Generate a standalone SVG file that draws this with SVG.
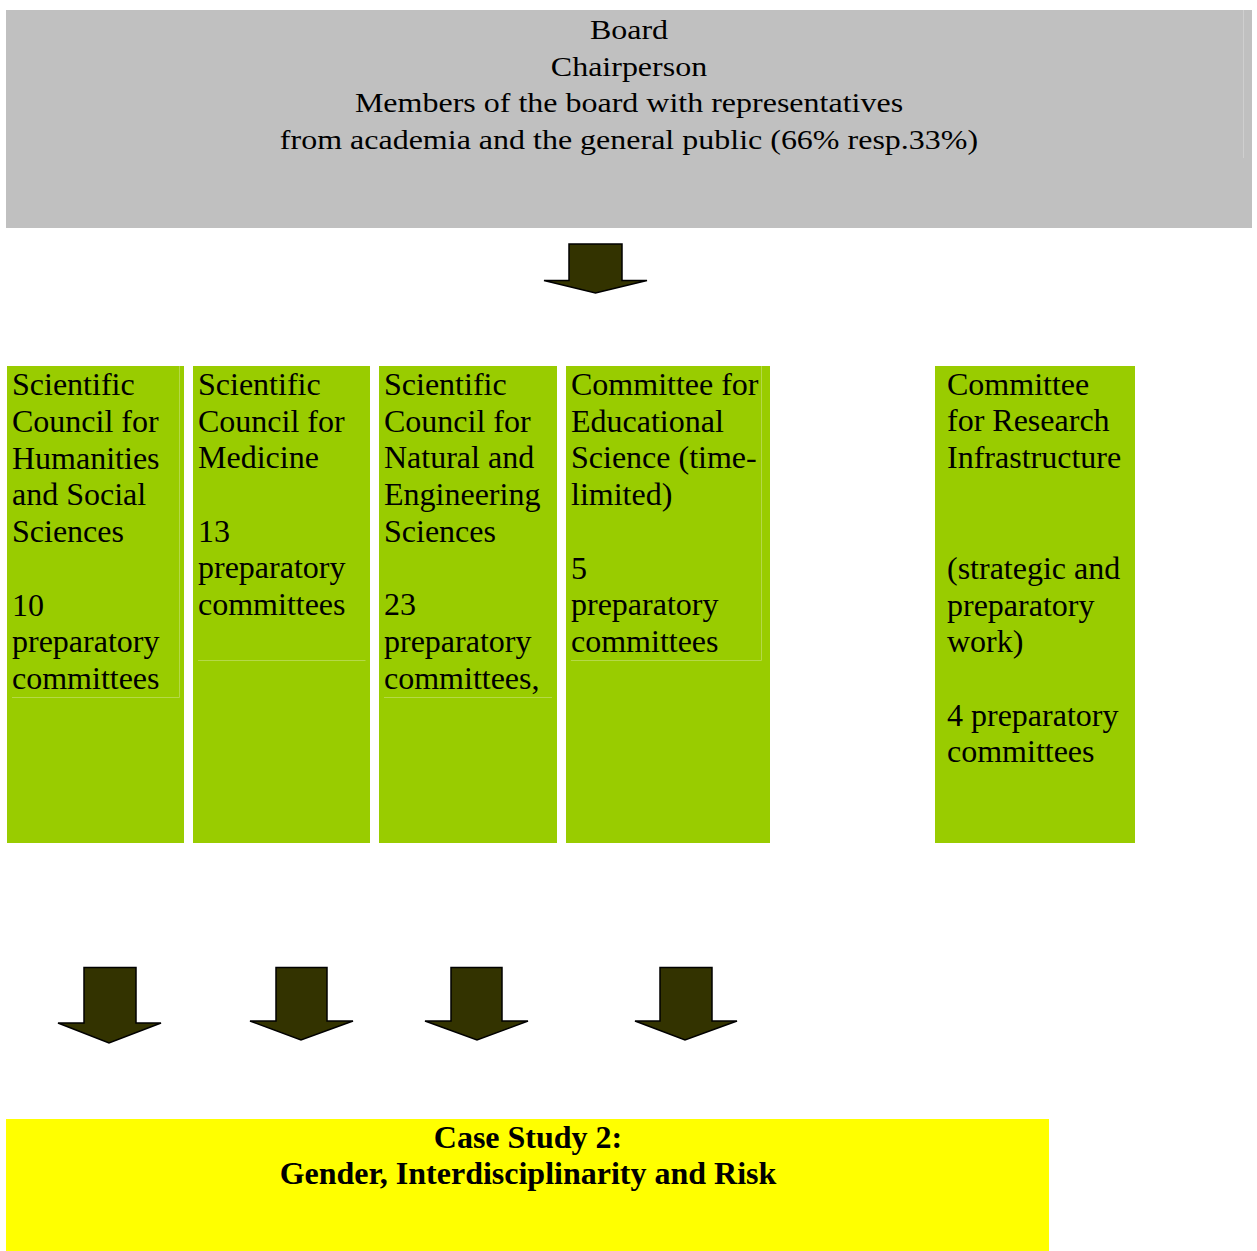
<svg xmlns="http://www.w3.org/2000/svg" width="1257" height="1251" viewBox="0 0 1257 1251">
<style>
.t{font-family:"Liberation Serif","Times New Roman",serif;font-size:32px;fill:#000}
.b{font-weight:bold}
.green{fill:#99cc00}
.frame{stroke:#b5d948;stroke-width:1;fill:none}
.arrow{fill:#333300;stroke:#000;stroke-width:1.5;stroke-linejoin:miter}
</style>
<rect width="1257" height="1251" fill="#fff"/>
<g id="board">
<rect x="6" y="10" width="1246" height="218" fill="#c0c0c0"/>
<line x1="1243.5" y1="10" x2="1243.5" y2="158" stroke="#cfcfcf" stroke-width="1"/>
<g transform="scale(1,0.84)">
<text class="t" text-anchor="middle" x="629" y="46.4">Board</text>
<text class="t" text-anchor="middle" x="629" y="89.9">Chairperson</text>
<text class="t" text-anchor="middle" x="629" y="133.3">Members of the board with representatives</text>
<text class="t" text-anchor="middle" x="629" y="176.8">from academia and the general public (66% resp.33%)</text>
</g>
</g>
<g id="humanities">
<rect class="green" x="7" y="366" width="177" height="477"/>
<path class="frame" d="M12 697.5H179.5V366"/>
<text class="t" x="12"><tspan x="12" y="395">Scientific</tspan><tspan x="12" y="432">Council for</tspan><tspan x="12" y="469">Humanities</tspan><tspan x="12" y="505">and Social</tspan><tspan x="12" y="542">Sciences</tspan><tspan x="12" y="616">10</tspan><tspan x="12" y="652">preparatory</tspan><tspan x="12" y="689">committees</tspan></text>
</g>
<g id="medicine">
<rect class="green" x="193" y="366" width="177" height="477"/>
<path class="frame" d="M198 660.5H365.5"/>
<text class="t"><tspan x="198" y="395">Scientific</tspan><tspan x="198" y="432">Council for</tspan><tspan x="198" y="468">Medicine</tspan><tspan x="198" y="542">13</tspan><tspan x="198" y="578">preparatory</tspan><tspan x="198" y="615">committees</tspan></text>
</g>
<g id="natural">
<rect class="green" x="379" y="366" width="178" height="477"/>
<path class="frame" d="M384 697.5H552"/>
<text class="t"><tspan x="384" y="395">Scientific</tspan><tspan x="384" y="432">Council for</tspan><tspan x="384" y="468">Natural and</tspan><tspan x="384" y="505">Engineering</tspan><tspan x="384" y="542">Sciences</tspan><tspan x="384" y="615">23</tspan><tspan x="384" y="652">preparatory</tspan><tspan x="384" y="689">committees,</tspan></text>
</g>
<g id="educational">
<rect class="green" x="566" y="366" width="204" height="477"/>
<path class="frame" d="M571 660.5H761.5V366"/>
<text class="t"><tspan x="571" y="395">Committee for</tspan><tspan x="571" y="432">Educational</tspan><tspan x="571" y="468">Science (time-</tspan><tspan x="571" y="505">limited)</tspan><tspan x="571" y="579">5</tspan><tspan x="571" y="615">preparatory</tspan><tspan x="571" y="652">committees</tspan></text>
</g>
<g id="infrastructure">
<rect class="green" x="935" y="366" width="200" height="477"/>
<text class="t"><tspan x="947" y="395">Committee</tspan><tspan x="947" y="431">for Research</tspan><tspan x="947" y="468">Infrastructure</tspan><tspan x="947" y="579">(strategic and</tspan><tspan x="947" y="616">preparatory</tspan><tspan x="947" y="652">work)</tspan><tspan x="947" y="726">4 preparatory</tspan><tspan x="947" y="762">committees</tspan></text>
</g>
<g id="casestudy">
<rect x="6" y="1119" width="1043" height="132" fill="#ffff00"/>
<text class="t b" text-anchor="middle" x="528" y="1148">Case Study 2:</text>
<text class="t b" text-anchor="middle" x="528" y="1184">Gender, Interdisciplinarity and Risk</text>
</g>
<g id="connectors">
<polygon class="arrow" points="569,244 622,244 622,280.5 647,280.5 595.5,293 544,280.5 569,280.5"/>
<polygon class="arrow" points="84,967.5 136,967.5 136,1023 161,1023 109,1043 58,1023 84,1023"/>
<polygon class="arrow" points="276,967.5 327,967.5 327,1021 353,1021 301,1040 250,1021 276,1021"/>
<polygon class="arrow" points="451,967.5 502,967.5 502,1021 528,1021 477,1040 425,1021 451,1021"/>
<polygon class="arrow" points="660,967.5 712,967.5 712,1021 737,1021 685,1040 635,1021 660,1021"/>
</g>
</svg>
